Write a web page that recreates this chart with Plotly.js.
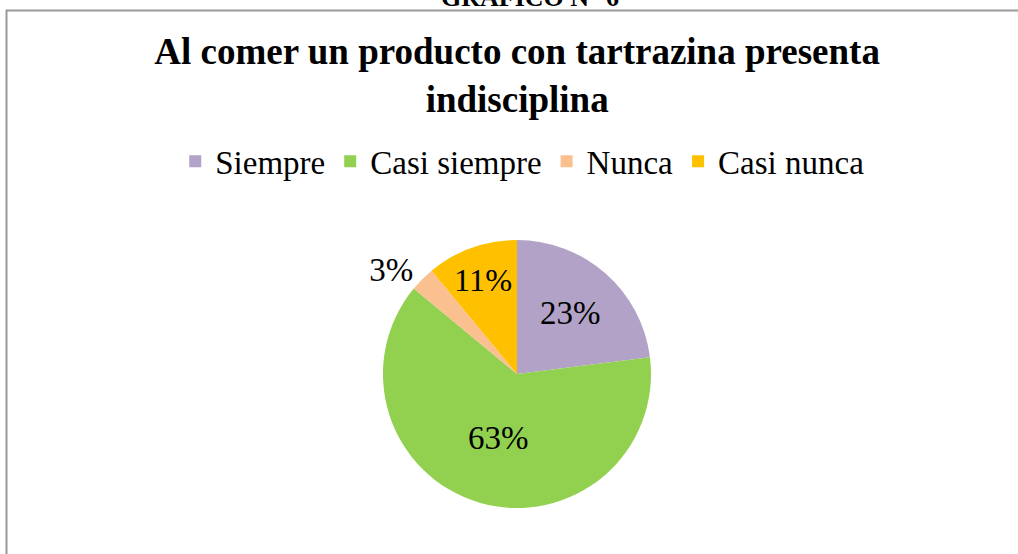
<!DOCTYPE html>
<html>
<head>
<meta charset="utf-8">
<script src="https://cdn.plot.ly/plotly-3.0.1.min.js"></script>
<style>html,body{margin:0;padding:0;background:#fff;}#chart{width:1018px;height:554px;}</style>
</head>
<body>
<div id="chart"></div>
<script>
const categories = ["Siempre", "Casi siempre", "Nunca", "Casi nunca"];
const percentages = [23, 63, 3, 11];
const sliceColors = ["#B2A2C7", "#92D050", "#FAC090", "#FFC000"];
const chartTitle = "Al comer un producto con tartrazina presenta<br>indisciplina";
const figureLabel = "GRÁFICO N° 6";

const serif = "Liberation Serif, Times New Roman, serif";

const data = [{
  type: "pie",
  labels: categories,
  values: percentages,
  sort: false,
  direction: "clockwise",
  rotation: 0,
  marker: {colors: sliceColors, line: {width: 0}},
  textinfo: "percent",
  texttemplate: "%{value}%",
  textposition: ["inside", "inside", "outside", "inside"],
  insidetextorientation: "horizontal",
  textfont: {family: serif, size: 33, color: "#000"},
  outsidetextfont: {family: serif, size: 33, color: "#000"},
  insidetextfont: {family: serif, size: 33, color: "#000"},
  domain: {x: [0.3762, 0.6395], y: [0.083, 0.5668]},
  hoverinfo: "label+percent",
  showlegend: true
}];

const layout = {
  width: 1018,
  height: 554,
  margin: {l: 0, r: 0, t: 0, b: 0},
  paper_bgcolor: "#fff",
  title: {
    text: chartTitle,
    font: {family: serif, size: 37, color: "#000", weight: "bold"},
    x: 0.508, xanchor: "center",
    y: 0.885, yanchor: "middle", yref: "container"
  },
  legend: {
    orientation: "h",
    x: 0.513, xanchor: "center",
    y: 0.709, yanchor: "middle",
    font: {family: serif, size: 33, color: "#000"},
    traceorder: "normal"
  },
  shapes: [{
    type: "rect", xref: "paper", yref: "paper",
    x0: 0.0064, x1: 1.02, y0: -0.02, y1: 0.981,
    line: {color: "#9a9a9a", width: 2},
    fillcolor: "rgba(0,0,0,0)"
  }],
  annotations: [{
    text: "<b>" + figureLabel + "</b>",
    xref: "paper", yref: "paper",
    x: 0.521, xanchor: "center",
    y: 0.975, yanchor: "bottom",
    showarrow: false,
    font: {family: serif, size: 26, color: "#000"}
  }]
};

Plotly.newPlot("chart", data, layout, {displayModeBar: false, staticPlot: true});
</script>
</body>
</html>
